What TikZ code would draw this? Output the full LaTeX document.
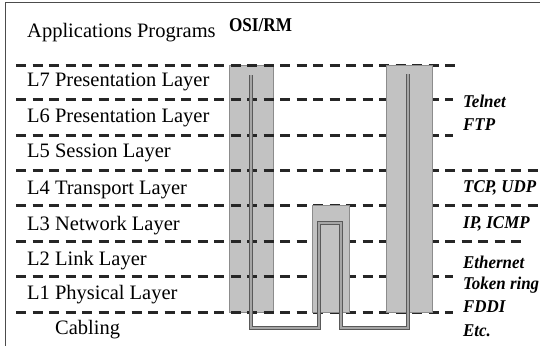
\documentclass[tikz,border=0pt]{standalone}
\usepackage{fontspec}
\setmainfont{Liberation Serif}
\begin{document}
\begin{tikzpicture}[x=1pt,y=-1pt,
  layerline/.style={line width=3pt,draw=black!85,dash pattern=on 10pt off 6.5pt},
  stackbox/.style={draw=black!45,line width=0.8pt,fill=black!24},
  pathline/.style={draw=black!65,line width=1.1pt,double=black!35,double distance=1.6pt},
  lefttext/.style={anchor=west,inner sep=0pt,font=\fontsize{20.5}{24}\selectfont},
  righttext/.style={anchor=west,inner sep=0pt,xscale=0.94,font=\fontsize{18}{21}\selectfont\bfseries\itshape},
]
\useasboundingbox (0,0) rectangle (540,345);
\fill[white] (0,0) rectangle (540,345);
% frame
\draw[black!70,line width=1pt] (5,350) -- (5,3) -- (545,3);

% title
\node[inner sep=0pt,xscale=0.88,font=\fontsize{19.5}{22}\selectfont\bfseries] (title) at (260.5,25) {OSI/RM};

% left labels
\node[lefttext] (app) at (27,33) {Applications Programs};
\node[lefttext] (l7) at (27,82) {L7 Presentation Layer};
\node[lefttext] (l6) at (27,118) {L6 Presentation Layer};
\node[lefttext] (l5) at (27,153) {L5 Session Layer};
\node[lefttext] (l4) at (27,190) {L4 Transport Layer};
\node[lefttext] (l3) at (27,226) {L3 Network Layer};
\node[lefttext] (l2) at (27,261) {L2 Link Layer};
\node[lefttext] (l1) at (27,295) {L1 Physical Layer};
\node[lefttext] (cab) at (55,330) {Cabling};

% left box (under the dashed lines)
\draw[stackbox] (229,65) rectangle (273,312);

% dashed layer lines
\draw[layerline] (16,65) -- (455,65);
\draw[layerline] (16,99) -- (453,99);
\draw[layerline] (16,135) -- (453,135);
\draw[layerline] (16,170) -- (540,170);
\draw[layerline] (16,205) -- (538,205);
\draw[layerline] (16,241) -- (527,241);
\draw[layerline] (16,276) -- (453,276);
\draw[layerline] (16,312) -- (453,312);

% middle and right boxes (over the dashed lines)
\draw[stackbox] (312,205) rectangle (349,312);
\draw[stackbox] (386,65) rectangle (432,312);

% path through the stacks
\coordinate (pa) at (251,75);
\coordinate (pb) at (251,328);
\coordinate (pc) at (319,328);
\coordinate (pd) at (319,223);
\coordinate (pe) at (341,223);
\coordinate (pf) at (341,328);
\coordinate (pg) at (408,328);
\coordinate (ph) at (408,74);
\draw[pathline] (pa) -- (pb) -- (pc) -- (pd) -- (pe) -- (pf) -- (pg) -- (ph);

% right labels
\node[righttext] (telnet) at (463,101) {Telnet};
\node[righttext] (ftp) at (463,125) {FTP};
\node[righttext] (tcp) at (463,188) {TCP, UDP};
\node[righttext] (ip) at (463,224) {IP, ICMP};
\node[righttext] (eth) at (463,262) {Ethernet};
\node[righttext] (tok) at (463,285) {Token ring};
\node[righttext] (fddi) at (463,307) {FDDI};
\node[righttext] (etc) at (463,331) {Etc.};
\end{tikzpicture}
\end{document}
